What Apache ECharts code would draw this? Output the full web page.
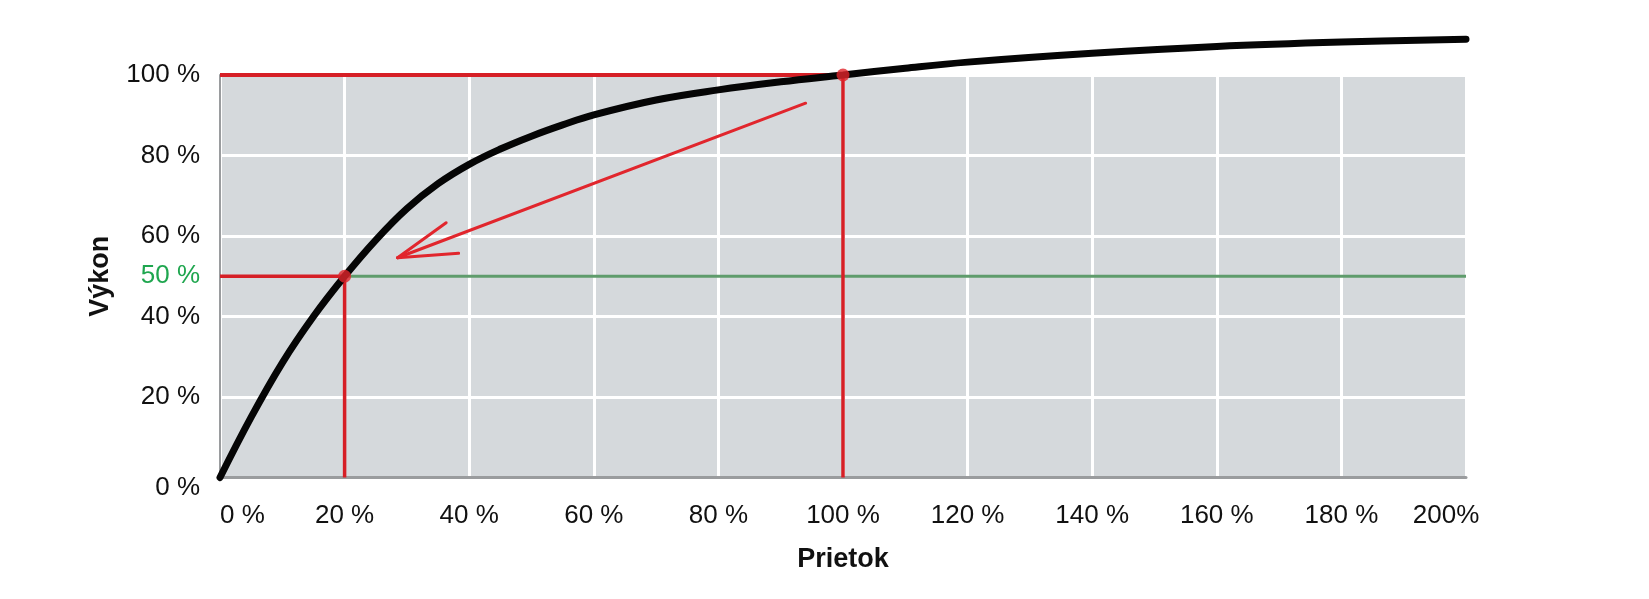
<!DOCTYPE html>
<html>
<head>
<meta charset="utf-8">
<script src="https://cdn.jsdelivr.net/npm/echarts@6/dist/echarts.min.js"></script>
<style>
html,body{margin:0;padding:0;background:#fff;}
#chart{width:1649px;height:599px;}
</style>
</head>
<body>
<div id="chart"></div>
<script>
// ---- data ----
const xTickValues = [0, 20, 40, 60, 80, 100, 120, 140, 160, 180, 200];
const xTickLabels = ['0 %', '20 %', '40 %', '60 %', '80 %', '100 %', '120 %', '140 %', '160 %', '180 %', '200%'];
const yTickValues = [0, 20, 40, 60, 80, 100];
const yTickLabels = ['0 %', '20 %', '40 %', '60 %', '80 %', '100 %'];
const highlightY = 50;
const highlightLabel = '50 %';

const curveFlow  = [0, 5, 10, 15, 20, 25, 30, 35, 40, 45, 50, 55, 60, 70, 80, 90, 100, 110, 120, 140, 160, 180, 200];
const curvePower = [0, 15, 28.5, 40, 50, 59, 66.8, 73, 77.8, 81.6, 84.8, 87.6, 90.1, 93.8, 96.3, 98.3, 100, 101.7, 103.2, 105.4, 107.1, 108.2, 108.9];

const partPoint  = [20, 50];    // 20 % flow -> 50 % power
const ratedPoint = [100, 100];  // nominal point

const arrowFrom  = [94, 93];
const arrowTip   = [28.5, 54.6];
const arrowBarbA = [36.3, 63.3];
const arrowBarbB = [38.3, 55.7];

const xName = 'Prietok';
const yName = 'Výkon';

// ---- chart ----
const FONT = '"Liberation Sans", Arial, Helvetica, sans-serif';
const chart = echarts.init(document.getElementById('chart'), null, {renderer: 'canvas'});

function seg(a, b, color, width, z) {
  return {
    type: 'line', data: [a, b], symbol: 'none', silent: true, clip: false,
    lineStyle: {color: color, width: width, cap: 'butt'}, z: z, animation: false
  };
}

const RED = '#d61f26';
const GREEN = '#5f9c6c';

const option = {
  backgroundColor: '#ffffff',
  animation: false,
  grid: {
    left: 220, right: 183, top: 75, bottom: 121.5,
    show: true, backgroundColor: '#d5d9dc', borderColor: '#c4c7ca', borderWidth: 1
  },
  xAxis: {
    type: 'value', min: 0, max: 200, interval: 20,
    name: xName, nameLocation: 'middle', nameGap: 69,
    nameTextStyle: {fontFamily: FONT, fontSize: 27, fontWeight: 'bold', color: '#111'},
    axisLine: {show: true, onZero: false, lineStyle: {color: '#9a9c9e', width: 3}},
    axisTick: {show: false},
    splitLine: {show: true, lineStyle: {color: '#ffffff', width: 3}},
    axisLabel: {
      fontFamily: FONT, fontSize: 26, color: '#111', margin: 25,
      alignMinLabel: 'left', alignMaxLabel: 'center',
      formatter: function (v) {
        const i = xTickValues.indexOf(v);
        if (i < 0) return '';
        if (i === xTickValues.length - 1) return '{last|' + xTickLabels[i] + '}';
        return xTickLabels[i];
      },
      rich: {last: {fontFamily: FONT, fontSize: 26, color: '#111', padding: [0, 40, 0, 0]}}
    }
  },
  yAxis: [{
    type: 'value', min: 0, max: 100, interval: 20,
    name: yName, nameLocation: 'middle', nameGap: 106, nameRotate: 90,
    nameTextStyle: {fontFamily: FONT, fontSize: 27, fontWeight: 'bold', color: '#111'},
    axisLine: {show: true, lineStyle: {color: '#9a9c9e', width: 2}},
    axisTick: {show: false},
    splitLine: {show: true, lineStyle: {color: '#ffffff', width: 3}},
    axisLabel: {
      fontFamily: FONT, fontSize: 26, color: '#111', margin: 20,
      formatter: function (v) {
        const i = yTickValues.indexOf(v);
        if (i < 0) return '';
        if (i === 0) return '{low|' + yTickLabels[i] + '}';
        return yTickLabels[i];
      },
      rich: {low: {fontFamily: FONT, fontSize: 26, color: '#111', padding: [20, 0, 0, 0]}}
    }
  }, {
    type: 'value', min: 0, max: 100, interval: highlightY, position: 'left',
    axisLine: {show: false}, axisTick: {show: false}, splitLine: {show: false},
    axisLabel: {
      fontFamily: FONT, fontSize: 26, color: '#1fa64f', margin: 20,
      formatter: function (v) { return v === highlightY ? highlightLabel : ''; }
    }
  }],
  series: [
    seg([0, partPoint[1]], partPoint, RED, 3.5, 3),
    seg([partPoint[0], 0], partPoint, RED, 3.5, 3),
    seg(partPoint, [200, partPoint[1]], GREEN, 3, 3),
    seg([0, ratedPoint[1]], ratedPoint, RED, 4, 3),
    seg([ratedPoint[0], 0], ratedPoint, RED, 3.5, 3),
    {
      type: 'lines', coordinateSystem: 'cartesian2d', silent: true, z: 4,
      lineStyle: {color: '#e1262d', width: 3, opacity: 1, cap: 'round'},
      data: [
        {coords: [arrowFrom, arrowTip]},
        {coords: [arrowBarbA, arrowTip]},
        {coords: [arrowBarbB, arrowTip]}
      ]
    },
    {
      type: 'line', data: curveFlow.map(function (x, i) { return [x, curvePower[i]]; }),
      smooth: 0.4, symbol: 'none', clip: false, silent: true, z: 5,
      lineStyle: {color: '#050505', width: 7, cap: 'round'}
    },
    {
      type: 'scatter', data: [partPoint, ratedPoint], symbolSize: 13, clip: false,
      itemStyle: {color: '#e0242a'}, z: 6, silent: true
    }
  ]
};
chart.setOption(option);
</script>
</body>
</html>
